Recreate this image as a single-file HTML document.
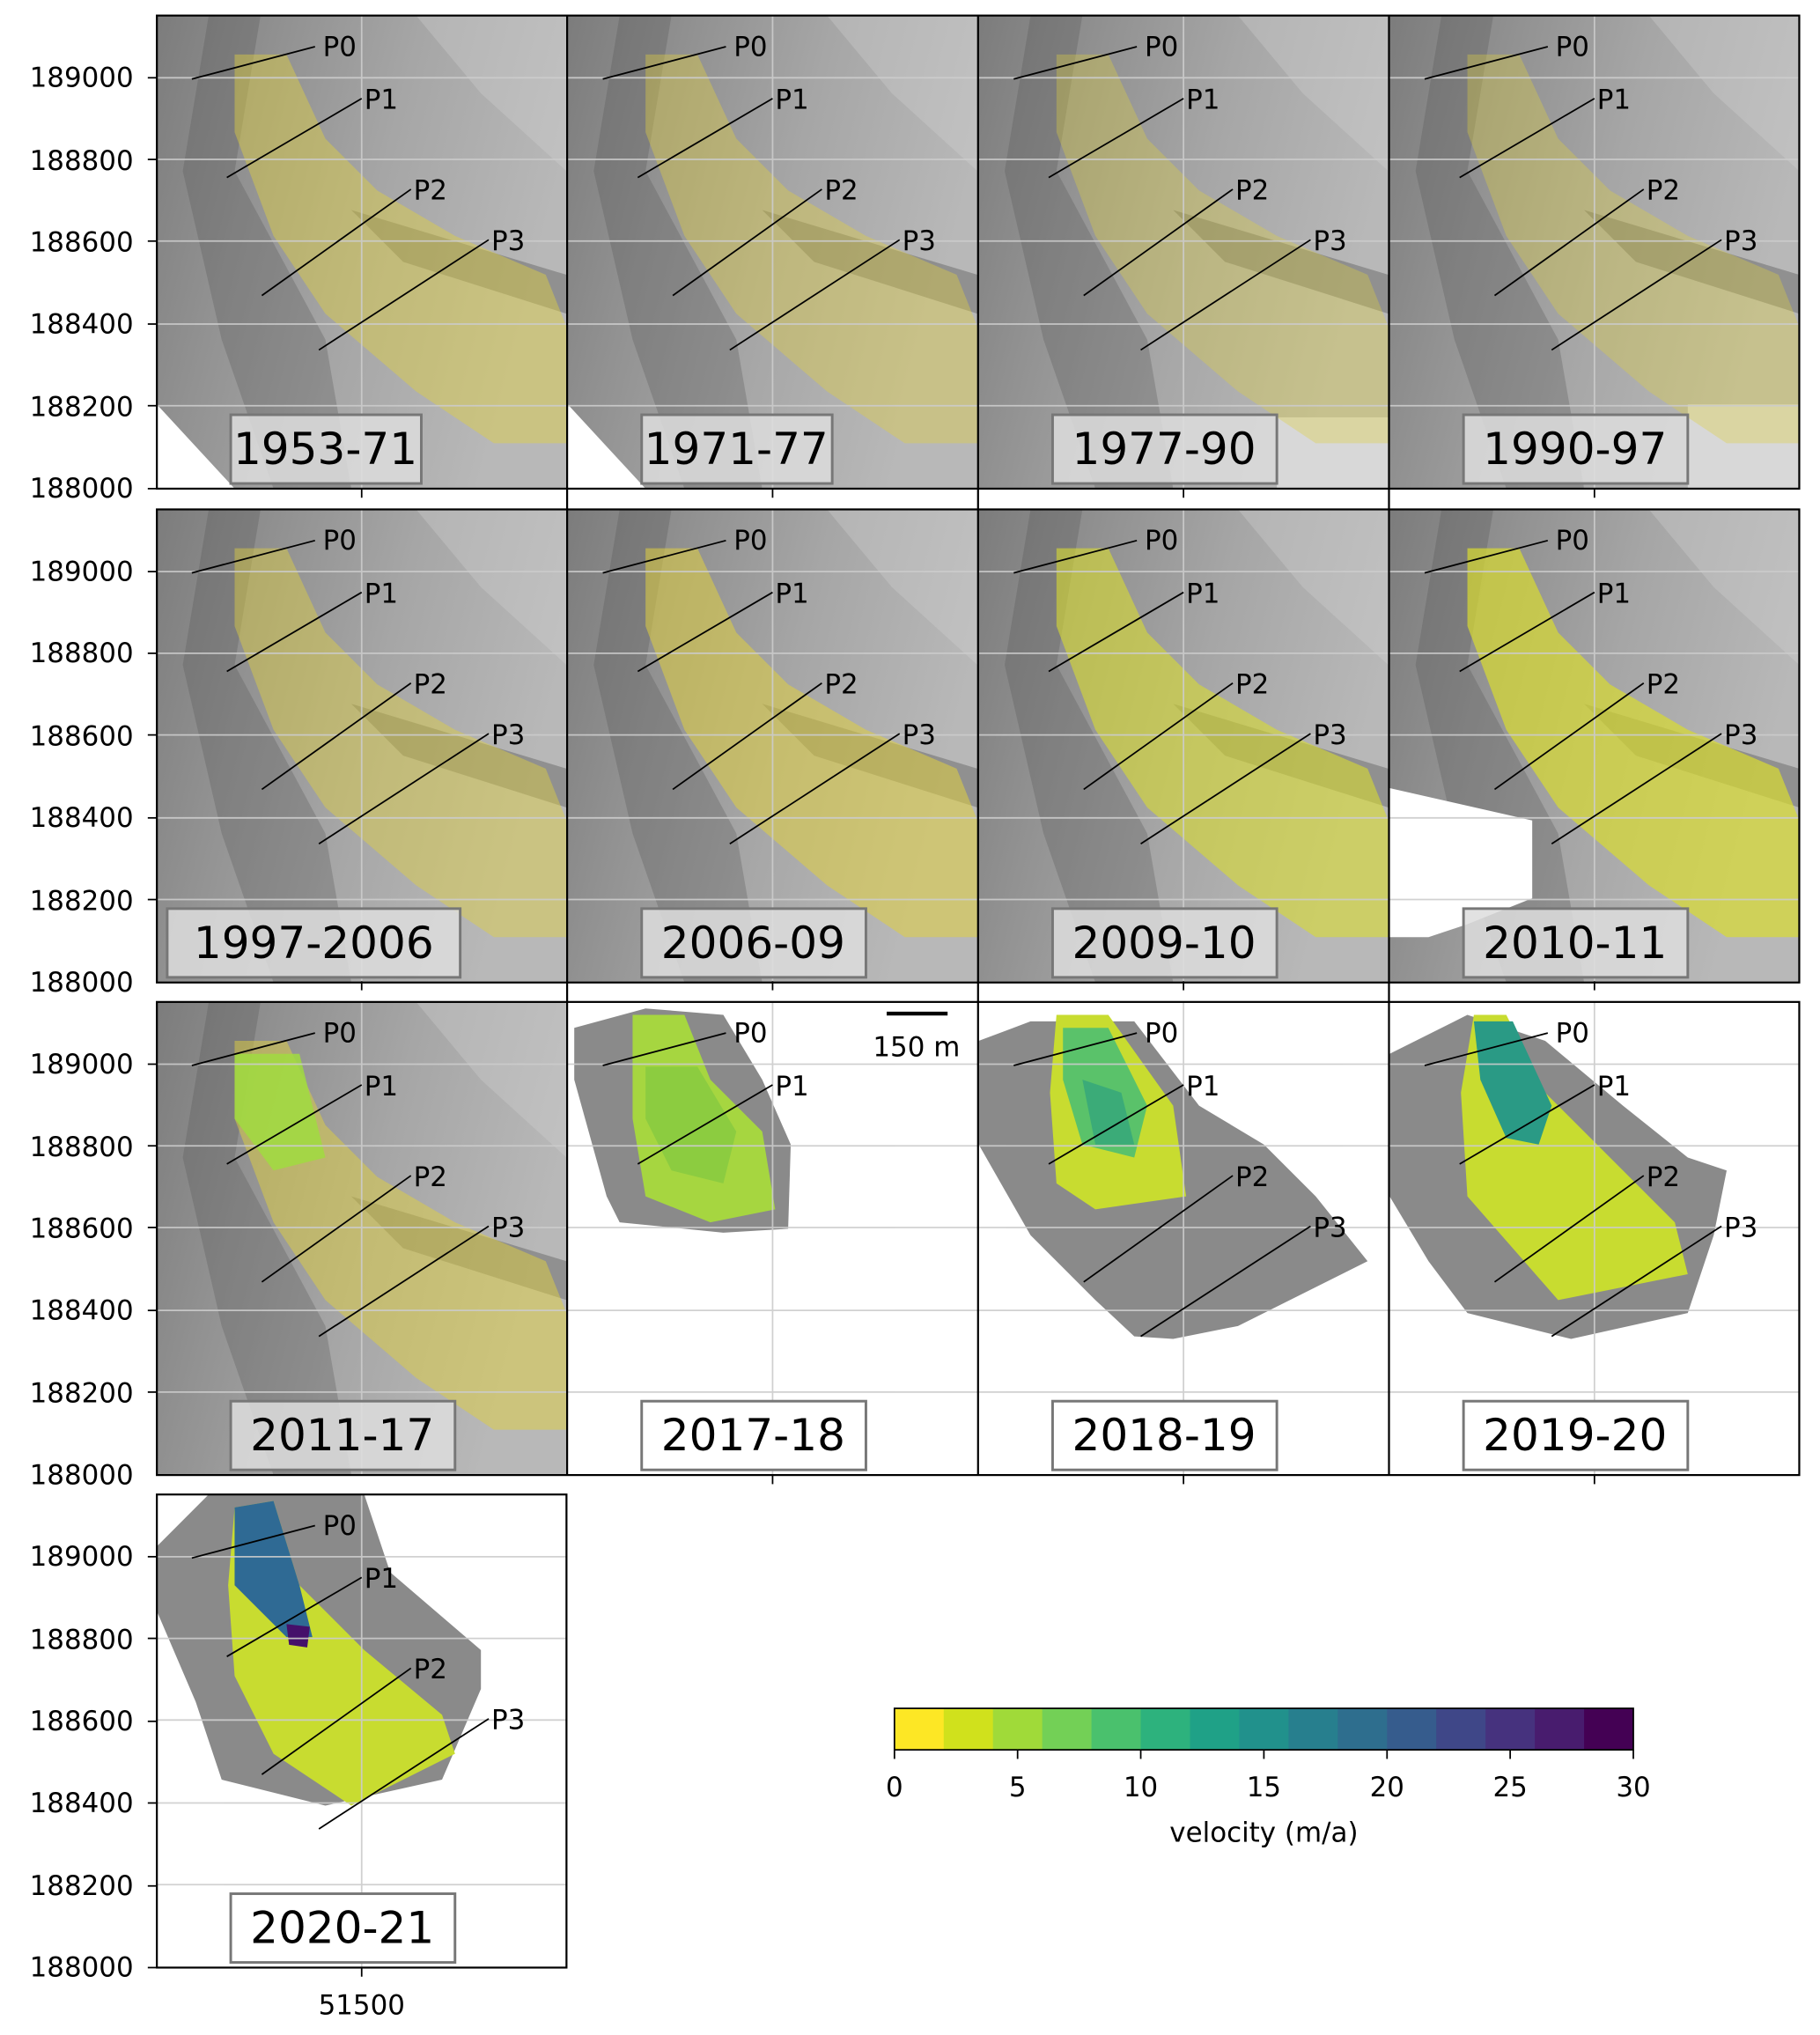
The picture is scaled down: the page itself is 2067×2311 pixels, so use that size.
<!DOCTYPE html>
<html><head><meta charset="utf-8"><style>
html,body{margin:0;padding:0;background:#fff}
svg{display:block}
text{font-family:"DejaVu Sans","Liberation Sans",sans-serif}
</style></head><body>
<svg width="2067" height="2311" viewBox="0 0 1404 1570" preserveAspectRatio="none" xmlns="http://www.w3.org/2000/svg">
<defs>
<clipPath id="c"><rect x="0" y="0" width="316" height="365"/></clipPath>
<linearGradient id="hs" x1="0" y1="0" x2="1" y2="0.3">
<stop offset="0" stop-color="#7c7c7c"/><stop offset="0.3" stop-color="#929292"/><stop offset="0.6" stop-color="#a6a6a6"/><stop offset="1" stop-color="#b8b8b8"/></linearGradient>
<g id="bg">
<rect width="316" height="365" fill="url(#hs)"/>
<polygon points="40,0 80,0 60,120 130,250 150,365 90,365 50,250 20,120" fill="#555" opacity="0.3"/>
<polygon points="150,150 316,200 316,230 190,190" fill="#444" opacity="0.35"/>
<polygon points="200,0 316,0 316,120 250,60" fill="#d0d0d0" opacity="0.35"/>
</g>
<g id="blob"><polygon points="60,30 100,30 130,95 170,135 230,170 300,200 316,240 316,330 260,330 200,290 130,230 90,170 60,90"/></g>
<g id="prof01" stroke="#000" stroke-width="1.2">
<line x1="27" y1="49" x2="122" y2="24"/><line x1="54" y1="125" x2="158" y2="64"/>
</g>
<g id="prof" stroke="#000" stroke-width="1.2">
<use href="#prof01"/>
<line x1="81" y1="216" x2="196" y2="134"/><line x1="125" y1="258" x2="256" y2="173"/>
</g>
<g id="grid" stroke="#ccc" stroke-width="1.2" opacity="0.9">
<line x1="0" y1="48" x2="316" y2="48"/><line x1="0" y1="111" x2="316" y2="111"/><line x1="0" y1="174" x2="316" y2="174"/><line x1="0" y1="238" x2="316" y2="238"/><line x1="0" y1="301" x2="316" y2="301"/><line x1="158" y1="0" x2="158" y2="365"/>
</g>
</defs>

<g font-size="21">
<g transform="translate(121,12)" clip-path="url(#c)"><use href="#bg"/><polygon points="0,300 60,365 0,365" fill="#fff"/><use href="#blob" fill="#e0d040" opacity="0.45"/><use href="#grid"/><use href="#prof"/><text x="128" y="31">P0</text><text x="160" y="72">P1</text><text x="198" y="142">P2</text><text x="258" y="181">P3</text><rect x="57" y="308" width="147" height="53" fill="#ddd" fill-opacity="0.85" stroke="#777" stroke-width="2"/><text x="130" y="346" font-size="34" text-anchor="middle">1953-71</text></g>
<g transform="translate(438,12)" clip-path="url(#c)"><use href="#bg"/><polygon points="0,300 60,365 0,365" fill="#fff"/><use href="#blob" fill="#e0d040" opacity="0.4"/><use href="#grid"/><use href="#prof"/><text x="128" y="31">P0</text><text x="160" y="72">P1</text><text x="198" y="142">P2</text><text x="258" y="181">P3</text><rect x="57" y="308" width="147" height="53" fill="#ddd" fill-opacity="0.85" stroke="#777" stroke-width="2"/><text x="130" y="346" font-size="34" text-anchor="middle">1971-77</text></g>
<g transform="translate(755,12)" clip-path="url(#c)"><use href="#bg"/><rect x="230" y="310" width="86" height="55" fill="#d8d8d8"/><use href="#blob" fill="#e0d040" opacity="0.35"/><use href="#grid"/><use href="#prof"/><text x="128" y="31">P0</text><text x="160" y="72">P1</text><text x="198" y="142">P2</text><text x="258" y="181">P3</text><rect x="57" y="308" width="173" height="53" fill="#ddd" fill-opacity="0.85" stroke="#777" stroke-width="2"/><text x="143" y="346" font-size="34" text-anchor="middle">1977-90</text></g>
<g transform="translate(1072,12)" clip-path="url(#c)"><use href="#bg"/><rect x="230" y="300" width="86" height="65" fill="#d8d8d8"/><use href="#blob" fill="#e0d040" opacity="0.35"/><use href="#grid"/><use href="#prof"/><text x="128" y="31">P0</text><text x="160" y="72">P1</text><text x="198" y="142">P2</text><text x="258" y="181">P3</text><rect x="57" y="308" width="173" height="53" fill="#ddd" fill-opacity="0.85" stroke="#777" stroke-width="2"/><text x="143" y="346" font-size="34" text-anchor="middle">1990-97</text></g>
<g transform="translate(121,393)" clip-path="url(#c)"><use href="#bg"/><use href="#blob" fill="#e0d040" opacity="0.45"/><use href="#grid"/><use href="#prof"/><text x="128" y="31">P0</text><text x="160" y="72">P1</text><text x="198" y="142">P2</text><text x="258" y="181">P3</text><rect x="8" y="308" width="226" height="53" fill="#ddd" fill-opacity="0.85" stroke="#777" stroke-width="2"/><text x="121" y="346" font-size="34" text-anchor="middle">1997-2006</text></g>
<g transform="translate(438,393)" clip-path="url(#c)"><use href="#bg"/><use href="#blob" fill="#e0d040" opacity="0.55"/><use href="#grid"/><use href="#prof"/><text x="128" y="31">P0</text><text x="160" y="72">P1</text><text x="198" y="142">P2</text><text x="258" y="181">P3</text><rect x="57" y="308" width="173" height="53" fill="#ddd" fill-opacity="0.85" stroke="#777" stroke-width="2"/><text x="143" y="346" font-size="34" text-anchor="middle">2006-09</text></g>
<g transform="translate(755,393)" clip-path="url(#c)"><use href="#bg"/><use href="#blob" fill="#d8dc30" opacity="0.6"/><use href="#grid"/><use href="#prof"/><text x="128" y="31">P0</text><text x="160" y="72">P1</text><text x="198" y="142">P2</text><text x="258" y="181">P3</text><rect x="57" y="308" width="173" height="53" fill="#ddd" fill-opacity="0.85" stroke="#777" stroke-width="2"/><text x="143" y="346" font-size="34" text-anchor="middle">2009-10</text></g>
<g transform="translate(1072,393)" clip-path="url(#c)"><use href="#bg"/><polygon points="0,215 110,240 110,300 60,320 30,330 0,330" fill="#fff"/><use href="#blob" fill="#d8dc30" opacity="0.7"/><use href="#grid"/><use href="#prof"/><text x="128" y="31">P0</text><text x="160" y="72">P1</text><text x="198" y="142">P2</text><text x="258" y="181">P3</text><rect x="57" y="308" width="173" height="53" fill="#ddd" fill-opacity="0.85" stroke="#777" stroke-width="2"/><text x="143" y="346" font-size="34" text-anchor="middle">2010-11</text></g>
<g transform="translate(121,773)" clip-path="url(#c)"><use href="#bg"/><use href="#blob" fill="#e0d040" opacity="0.5"/><polygon points="60,40 110,40 130,120 90,130 60,90" fill="#a0dc40" opacity="0.85"/><use href="#grid"/><use href="#prof"/><text x="128" y="31">P0</text><text x="160" y="72">P1</text><text x="198" y="142">P2</text><text x="258" y="181">P3</text><rect x="57" y="308" width="173" height="53" fill="#ddd" fill-opacity="0.85" stroke="#777" stroke-width="2"/><text x="143" y="346" font-size="34" text-anchor="middle">2011-17</text></g>
<g transform="translate(438,773)" clip-path="url(#c)"><rect width="316" height="365" fill="#fff"/><polygon points="5,20 60,5 120,10 150,60 172,110 170,175 120,178 40,170 30,150 5,60" fill="#8a8a8a"/><polygon points="50,10 90,10 110,60 150,100 160,160 110,170 60,150 50,90" fill="#a6d640"/><polygon points="60,50 100,50 130,100 120,140 80,130 60,90" fill="#8ccc40"/><use href="#grid"/><use href="#prof01"/><text x="128" y="31">P0</text><text x="160" y="72">P1</text><rect x="57" y="308" width="173" height="53" fill="#fff" stroke="#777" stroke-width="2"/><text x="143" y="346" font-size="34" text-anchor="middle">2017-18</text></g>
<g transform="translate(755,773)" clip-path="url(#c)"><rect width="316" height="365" fill="#fff"/><polygon points="0,30 40,15 120,15 170,80 220,110 260,150 300,200 200,250 150,260 120,258 90,230 40,180 0,110" fill="#8a8a8a"/><polygon points="60,10 100,10 150,80 160,150 90,160 60,140 55,70" fill="#c8dc30"/><polygon points="65,20 100,20 130,80 120,120 80,110 65,60" fill="#5ac26a"/><polygon points="80,60 110,70 120,110 90,110" fill="#3bab78"/><use href="#grid"/><use href="#prof"/><text x="128" y="31">P0</text><text x="160" y="72">P1</text><text x="198" y="142">P2</text><text x="258" y="181">P3</text><rect x="57" y="308" width="173" height="53" fill="#fff" stroke="#777" stroke-width="2"/><text x="143" y="346" font-size="34" text-anchor="middle">2018-19</text></g>
<g transform="translate(1072,773)" clip-path="url(#c)"><rect width="316" height="365" fill="#fff"/><polygon points="0,40 60,10 120,30 180,80 230,120 260,130 250,180 230,240 140,260 60,240 30,200 0,150" fill="#8a8a8a"/><polygon points="65,10 90,10 120,70 170,120 220,170 230,210 130,230 60,150 55,70" fill="#c8dc30"/><polygon points="65,15 95,15 125,80 115,110 90,105 70,60" fill="#2a9a85"/><use href="#grid"/><use href="#prof"/><text x="128" y="31">P0</text><text x="160" y="72">P1</text><text x="198" y="142">P2</text><text x="258" y="181">P3</text><rect x="57" y="308" width="173" height="53" fill="#fff" stroke="#777" stroke-width="2"/><text x="143" y="346" font-size="34" text-anchor="middle">2019-20</text></g>
<g transform="translate(121,1153)" clip-path="url(#c)"><rect width="316" height="365" fill="#fff"/><polygon points="0,40 40,0 160,0 180,60 250,120 250,150 220,220 130,240 50,220 30,160 0,90" fill="#8a8a8a"/><polygon points="60,10 90,5 110,70 160,120 220,170 230,200 150,240 90,200 60,140 55,70" fill="#c8dc30"/><polygon points="60,10 90,5 110,70 120,110 100,110 60,70" fill="#2f6a94"/><polygon points="100,100 118,102 116,118 102,116" fill="#45106a"/><use href="#grid"/><use href="#prof"/><text x="128" y="31">P0</text><text x="160" y="72">P1</text><text x="198" y="142">P2</text><text x="258" y="181">P3</text><rect x="57" y="308" width="173" height="53" fill="#fff" stroke="#777" stroke-width="2"/><text x="143" y="346" font-size="34" text-anchor="middle">2020-21</text></g>
</g>

<g fill="none" stroke="#000" stroke-width="1.5">
<rect x="121" y="12" width="1267" height="365"/><rect x="121" y="393" width="1267" height="365"/><rect x="121" y="773" width="1267" height="365"/><rect x="121" y="1153" width="316" height="365"/>
<line x1="437.5" y1="12" x2="437.5" y2="1138"/><line x1="754.5" y1="12" x2="754.5" y2="1138"/><line x1="1071.5" y1="12" x2="1071.5" y2="1138"/>
</g>
<line x1="684" y1="782" x2="731" y2="782" stroke="#000" stroke-width="3"/>
<text x="707" y="815" font-size="21" text-anchor="middle">150 m</text>

<g font-size="21" text-anchor="end">
<text x="103" y="67">189000</text><text x="103" y="131">188800</text><text x="103" y="194">188600</text><text x="103" y="257">188400</text><text x="103" y="321">188200</text><text x="103" y="384">188000</text>
<text x="103" y="448">189000</text><text x="103" y="511">188800</text><text x="103" y="575">188600</text><text x="103" y="638">188400</text><text x="103" y="702">188200</text><text x="103" y="765">188000</text>
<text x="103" y="828">189000</text><text x="103" y="892">188800</text><text x="103" y="955">188600</text><text x="103" y="1018">188400</text><text x="103" y="1082">188200</text><text x="103" y="1145">188000</text>
<text x="103" y="1208">189000</text><text x="103" y="1272">188800</text><text x="103" y="1335">188600</text><text x="103" y="1398">188400</text><text x="103" y="1462">188200</text><text x="103" y="1525">188000</text>
</g>
<text x="279" y="1554" font-size="21" text-anchor="middle">51500</text>
<g stroke="#000" stroke-width="1.2">
<line x1="114" y1="60" x2="121" y2="60"/><line x1="114" y1="123" x2="121" y2="123"/><line x1="114" y1="186" x2="121" y2="186"/><line x1="114" y1="250" x2="121" y2="250"/><line x1="114" y1="313" x2="121" y2="313"/><line x1="114" y1="377" x2="121" y2="377"/>
<line x1="114" y1="441" x2="121" y2="441"/><line x1="114" y1="504" x2="121" y2="504"/><line x1="114" y1="567" x2="121" y2="567"/><line x1="114" y1="631" x2="121" y2="631"/><line x1="114" y1="694" x2="121" y2="694"/>
<line x1="114" y1="821" x2="121" y2="821"/><line x1="114" y1="884" x2="121" y2="884"/><line x1="114" y1="947" x2="121" y2="947"/><line x1="114" y1="1011" x2="121" y2="1011"/><line x1="114" y1="1074" x2="121" y2="1074"/>
<line x1="114" y1="1201" x2="121" y2="1201"/><line x1="114" y1="1264" x2="121" y2="1264"/><line x1="114" y1="1328" x2="121" y2="1328"/><line x1="114" y1="1391" x2="121" y2="1391"/><line x1="114" y1="1455" x2="121" y2="1455"/><line x1="114" y1="1518" x2="121" y2="1518"/>
<line x1="279" y1="1518" x2="279" y2="1525"/><line x1="279" y1="377" x2="279" y2="384"/><line x1="596" y1="377" x2="596" y2="384"/><line x1="913" y1="377" x2="913" y2="384"/><line x1="1230" y1="377" x2="1230" y2="384"/>
<line x1="279" y1="757" x2="279" y2="764"/><line x1="596" y1="757" x2="596" y2="764"/><line x1="913" y1="757" x2="913" y2="764"/><line x1="1230" y1="757" x2="1230" y2="764"/>
<line x1="596" y1="1138" x2="596" y2="1145"/><line x1="913" y1="1138" x2="913" y2="1145"/><line x1="1230" y1="1138" x2="1230" y2="1145"/>
</g>

<g>
<rect x="690" y="1318" width="39" height="32" fill="#fde725"/><rect x="728" y="1318" width="39" height="32" fill="#d0e11c"/><rect x="766" y="1318" width="39" height="32" fill="#a0da39"/><rect x="804" y="1318" width="39" height="32" fill="#73d056"/><rect x="842" y="1318" width="39" height="32" fill="#4ac16d"/><rect x="880" y="1318" width="39" height="32" fill="#2db27d"/><rect x="918" y="1318" width="39" height="32" fill="#1fa187"/><rect x="956" y="1318" width="39" height="32" fill="#21918c"/><rect x="994" y="1318" width="39" height="32" fill="#277f8e"/><rect x="1032" y="1318" width="39" height="32" fill="#2e6e8e"/><rect x="1070" y="1318" width="39" height="32" fill="#365c8d"/><rect x="1108" y="1318" width="39" height="32" fill="#3f4788"/><rect x="1146" y="1318" width="39" height="32" fill="#46327e"/><rect x="1184" y="1318" width="39" height="32" fill="#481c6e"/><rect x="1222" y="1318" width="38" height="32" fill="#440154"/>
<rect x="690" y="1318" width="570" height="32" fill="none" stroke="#000" stroke-width="1.2"/>
<g stroke="#000" stroke-width="1.2"><line x1="690" y1="1350" x2="690" y2="1357"/><line x1="785" y1="1350" x2="785" y2="1357"/><line x1="880" y1="1350" x2="880" y2="1357"/><line x1="975" y1="1350" x2="975" y2="1357"/><line x1="1070" y1="1350" x2="1070" y2="1357"/><line x1="1165" y1="1350" x2="1165" y2="1357"/><line x1="1260" y1="1350" x2="1260" y2="1357"/></g>
<g font-size="21" text-anchor="middle"><text x="690" y="1386">0</text><text x="785" y="1386">5</text><text x="880" y="1386">10</text><text x="975" y="1386">15</text><text x="1070" y="1386">20</text><text x="1165" y="1386">25</text><text x="1260" y="1386">30</text>
<text x="975" y="1421">velocity (m/a)</text></g>
</g>
</svg>
</body></html>
